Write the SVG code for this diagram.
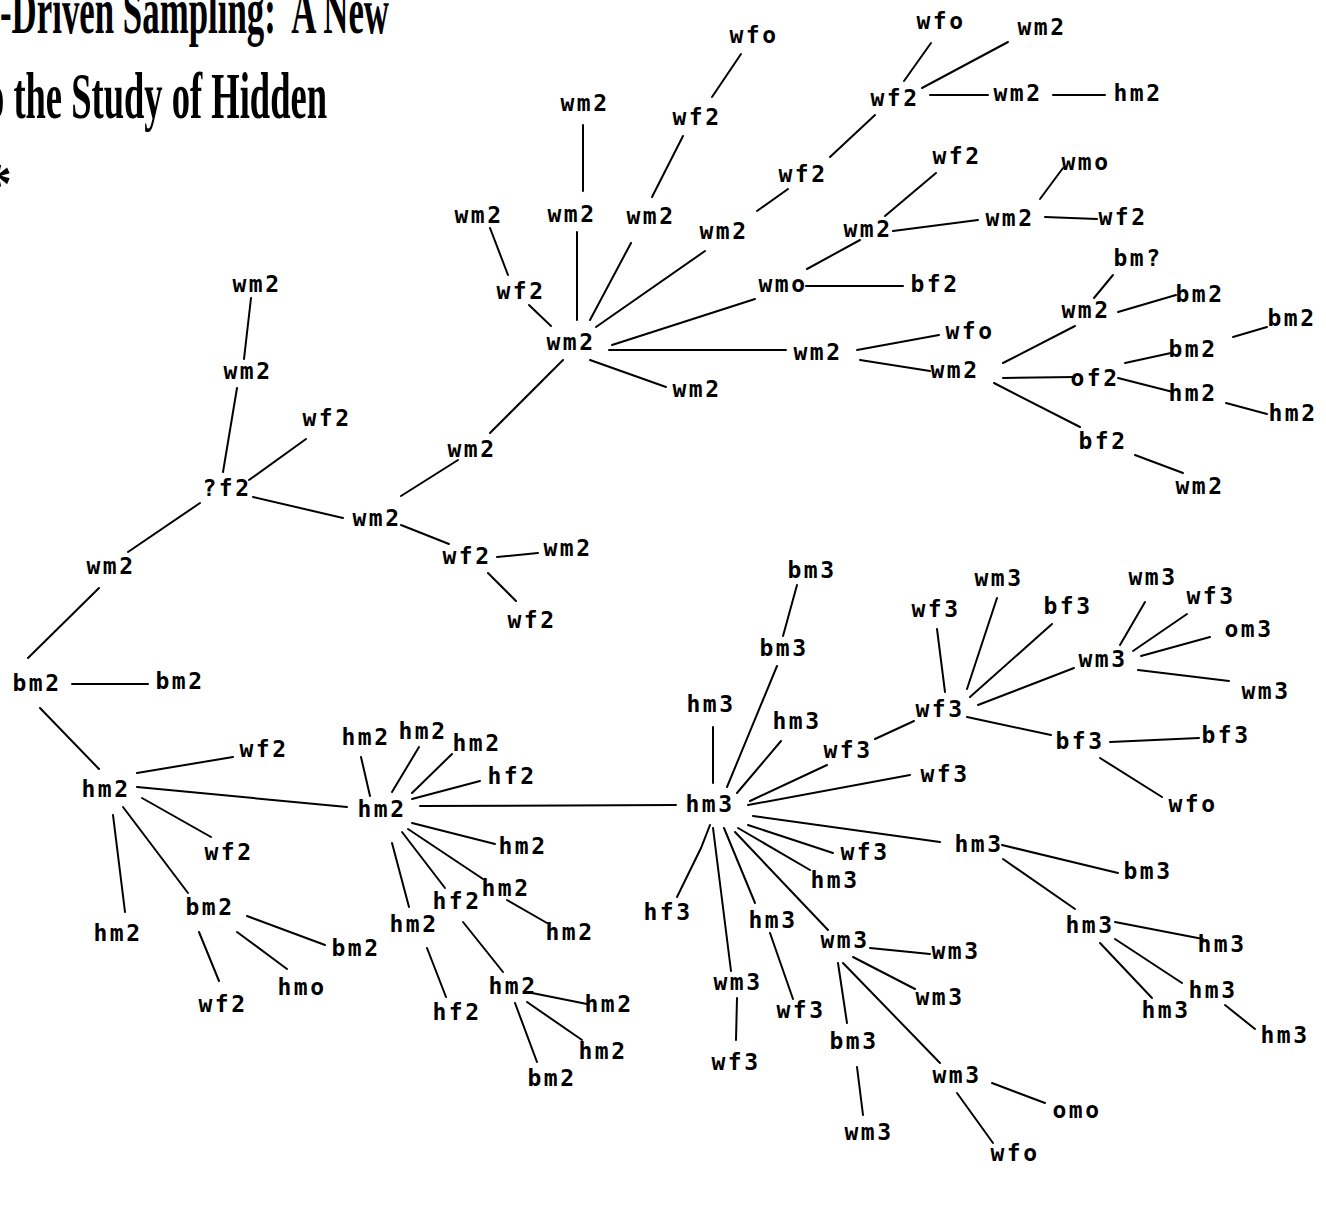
<svg xmlns="http://www.w3.org/2000/svg" width="1326" height="1225" viewBox="0 0 1326 1225">
<style>
.t{font-family:"Liberation Serif","Times New Roman",serif;font-weight:bold;font-size:66px;fill:#000}
.n text{font-family:"DejaVu Sans Mono","Liberation Mono",monospace;font-weight:bold;font-size:23px;letter-spacing:2.5px;text-anchor:middle;fill:#000}
#edges line,#edges polyline{stroke:#000;stroke-width:2;fill:none;stroke-linecap:round}
</style>
<rect width="1326" height="1225" fill="#fff"/>
<g id="title">
<text class="t" x="0" y="33" textLength="389" lengthAdjust="spacingAndGlyphs" xml:space="preserve">-Driven Sampling:  A New</text>
<text class="t" x="-14" y="118" textLength="341" lengthAdjust="spacingAndGlyphs">o the Study of Hidden</text>
<text class="t" x="12" y="203" text-anchor="end" style="font-size:56px">*</text>
</g>
<g id="edges">
<line x1="529" y1="305" x2="551" y2="326"/>
<line x1="490" y1="228" x2="508" y2="275"/>
<line x1="577" y1="232" x2="577" y2="320"/>
<line x1="583" y1="125" x2="583" y2="191"/>
<line x1="631" y1="243" x2="590" y2="320"/>
<line x1="683" y1="136" x2="652" y2="197"/>
<line x1="741" y1="54" x2="712" y2="97"/>
<line x1="705" y1="251" x2="596" y2="327"/>
<line x1="788" y1="189" x2="757" y2="211"/>
<line x1="875" y1="115" x2="830" y2="157"/>
<line x1="931" y1="43" x2="904" y2="81"/>
<line x1="1008" y1="42" x2="922" y2="88"/>
<line x1="930" y1="95" x2="988" y2="95"/>
<line x1="1053" y1="95" x2="1105" y2="95"/>
<line x1="755" y1="299" x2="612" y2="345"/>
<line x1="860" y1="240" x2="807" y2="269"/>
<line x1="806" y1="286" x2="903" y2="286"/>
<line x1="936" y1="173" x2="885" y2="216"/>
<line x1="893" y1="231" x2="978" y2="220"/>
<line x1="1063" y1="168" x2="1040" y2="199"/>
<line x1="1045" y1="217" x2="1097" y2="219"/>
<line x1="609" y1="350" x2="786" y2="350"/>
<line x1="857" y1="350" x2="939" y2="335"/>
<line x1="860" y1="360" x2="930" y2="371"/>
<line x1="1003" y1="363" x2="1075" y2="326"/>
<line x1="1113" y1="275" x2="1094" y2="298"/>
<line x1="1118" y1="312" x2="1176" y2="295"/>
<line x1="1003" y1="378" x2="1075" y2="377"/>
<line x1="1125" y1="363" x2="1171" y2="353"/>
<line x1="1233" y1="337" x2="1267" y2="327"/>
<line x1="1118" y1="378" x2="1173" y2="392"/>
<line x1="1226" y1="403" x2="1267" y2="414"/>
<line x1="994" y1="383" x2="1080" y2="427"/>
<line x1="1135" y1="455" x2="1183" y2="473"/>
<line x1="590" y1="360" x2="666" y2="387"/>
<line x1="563" y1="360" x2="490" y2="433"/>
<line x1="458" y1="460" x2="401" y2="496"/>
<line x1="401" y1="525" x2="449" y2="544"/>
<line x1="497" y1="557" x2="538" y2="553"/>
<line x1="488" y1="573" x2="516" y2="601"/>
<line x1="253" y1="497" x2="343" y2="518"/>
<line x1="306" y1="439" x2="249" y2="480"/>
<line x1="237" y1="388" x2="223" y2="472"/>
<line x1="251" y1="298" x2="244" y2="359"/>
<line x1="200" y1="503" x2="128" y2="552"/>
<line x1="99" y1="588" x2="28" y2="658"/>
<line x1="72" y1="684" x2="148" y2="684"/>
<line x1="40" y1="708" x2="99" y2="769"/>
<line x1="137" y1="773" x2="233" y2="757"/>
<line x1="137" y1="787" x2="347" y2="807"/>
<line x1="142" y1="798" x2="211" y2="837"/>
<line x1="123" y1="807" x2="188" y2="893"/>
<line x1="113" y1="815" x2="125" y2="912"/>
<line x1="199" y1="932" x2="219" y2="981"/>
<line x1="237" y1="932" x2="287" y2="969"/>
<line x1="247" y1="916" x2="325" y2="945"/>
<line x1="361" y1="757" x2="370" y2="796"/>
<line x1="419" y1="747" x2="392" y2="792"/>
<line x1="452" y1="754" x2="412" y2="793"/>
<line x1="480" y1="781" x2="412" y2="799"/>
<line x1="420" y1="806" x2="676" y2="805"/>
<line x1="412" y1="823" x2="495" y2="844"/>
<line x1="408" y1="829" x2="483" y2="879"/>
<line x1="507" y1="900" x2="547" y2="923"/>
<line x1="402" y1="832" x2="445" y2="888"/>
<line x1="392" y1="843" x2="409" y2="907"/>
<line x1="427" y1="948" x2="446" y2="997"/>
<line x1="463" y1="922" x2="503" y2="972"/>
<line x1="532" y1="993" x2="587" y2="1004"/>
<line x1="527" y1="1002" x2="582" y2="1040"/>
<line x1="515" y1="1003" x2="537" y2="1062"/>
<line x1="713" y1="727" x2="713" y2="783"/>
<line x1="777" y1="666" x2="727" y2="787"/>
<line x1="797" y1="585" x2="783" y2="636"/>
<line x1="781" y1="741" x2="737" y2="793"/>
<line x1="750" y1="801" x2="827" y2="765"/>
<line x1="875" y1="739" x2="914" y2="721"/>
<line x1="937" y1="629" x2="945" y2="692"/>
<line x1="997" y1="598" x2="967" y2="689"/>
<line x1="1052" y1="624" x2="970" y2="697"/>
<line x1="978" y1="705" x2="1074" y2="668"/>
<line x1="1145" y1="602" x2="1120" y2="645"/>
<line x1="1187" y1="614" x2="1133" y2="651"/>
<line x1="1210" y1="637" x2="1141" y2="656"/>
<line x1="1138" y1="670" x2="1229" y2="681"/>
<line x1="967" y1="717" x2="1051" y2="735"/>
<line x1="1110" y1="742" x2="1199" y2="738"/>
<line x1="1100" y1="758" x2="1162" y2="797"/>
<line x1="748" y1="805" x2="910" y2="775"/>
<line x1="753" y1="816" x2="940" y2="842"/>
<line x1="1002" y1="845" x2="1118" y2="873"/>
<line x1="1003" y1="859" x2="1075" y2="909"/>
<line x1="1115" y1="922" x2="1203" y2="939"/>
<line x1="1100" y1="943" x2="1152" y2="998"/>
<line x1="1115" y1="939" x2="1182" y2="983"/>
<line x1="1225" y1="1005" x2="1255" y2="1029"/>
<line x1="748" y1="825" x2="833" y2="853"/>
<line x1="738" y1="828" x2="810" y2="870"/>
<polyline points="710,825 701,848 677,897"/>
<line x1="713" y1="828" x2="731" y2="971"/>
<line x1="737" y1="998" x2="736" y2="1040"/>
<line x1="724" y1="828" x2="755" y2="903"/>
<line x1="770" y1="933" x2="793" y2="999"/>
<line x1="735" y1="832" x2="828" y2="930"/>
<line x1="870" y1="948" x2="930" y2="954"/>
<line x1="853" y1="957" x2="915" y2="989"/>
<line x1="838" y1="963" x2="847" y2="1023"/>
<line x1="857" y1="1067" x2="863" y2="1115"/>
<line x1="843" y1="963" x2="940" y2="1063"/>
<line x1="992" y1="1083" x2="1045" y2="1103"/>
<line x1="957" y1="1093" x2="993" y2="1143"/>
</g>
<g class="n" id="n1"><text x="571" y="350">wm2</text></g>
<g class="n" id="n2"><text x="521" y="299">wf2</text></g>
<g class="n" id="n3"><text x="479" y="223">wm2</text></g>
<g class="n" id="n4"><text x="572" y="222">wm2</text></g>
<g class="n" id="n5"><text x="585" y="111">wm2</text></g>
<g class="n" id="n6"><text x="651" y="224">wm2</text></g>
<g class="n" id="n7"><text x="697" y="125">wf2</text></g>
<g class="n" id="n8"><text x="754" y="43">wfo</text></g>
<g class="n" id="n9"><text x="724" y="239">wm2</text></g>
<g class="n" id="n10"><text x="803" y="182">wf2</text></g>
<g class="n" id="n11"><text x="895" y="106">wf2</text></g>
<g class="n" id="n12"><text x="941" y="29">wfo</text></g>
<g class="n" id="n13"><text x="1042" y="35">wm2</text></g>
<g class="n" id="n14"><text x="1018" y="101">wm2</text></g>
<g class="n" id="n15"><text x="1138" y="101">hm2</text></g>
<g class="n" id="n16"><text x="783" y="292">wmo</text></g>
<g class="n" id="n17"><text x="935" y="292">bf2</text></g>
<g class="n" id="n18"><text x="868" y="237">wm2</text></g>
<g class="n" id="n19"><text x="957" y="164">wf2</text></g>
<g class="n" id="n20"><text x="1010" y="226">wm2</text></g>
<g class="n" id="n21"><text x="1086" y="170">wmo</text></g>
<g class="n" id="n22"><text x="1123" y="225">wf2</text></g>
<g class="n" id="n23"><text x="818" y="360">wm2</text></g>
<g class="n" id="n24"><text x="970" y="339">wfo</text></g>
<g class="n" id="n25"><text x="955" y="378">wm2</text></g>
<g class="n" id="n26"><text x="1086" y="318">wm2</text></g>
<g class="n" id="n27"><text x="1138" y="266">bm?</text></g>
<g class="n" id="n28"><text x="1200" y="302">bm2</text></g>
<g class="n" id="n29"><text x="1095" y="386">of2</text></g>
<g class="n" id="n30"><text x="1193" y="357">bm2</text></g>
<g class="n" id="n31"><text x="1292" y="326">bm2</text></g>
<g class="n" id="n32"><text x="1193" y="401">hm2</text></g>
<g class="n" id="n33"><text x="1293" y="421">hm2</text></g>
<g class="n" id="n34"><text x="1103" y="449">bf2</text></g>
<g class="n" id="n35"><text x="1200" y="494">wm2</text></g>
<g class="n" id="n36"><text x="697" y="397">wm2</text></g>
<g class="n" id="n37"><text x="472" y="457">wm2</text></g>
<g class="n" id="n38"><text x="377" y="526">wm2</text></g>
<g class="n" id="n39"><text x="467" y="564">wf2</text></g>
<g class="n" id="n40"><text x="568" y="556">wm2</text></g>
<g class="n" id="n41"><text x="532" y="628">wf2</text></g>
<g class="n" id="n42"><text x="227" y="496">?f2</text></g>
<g class="n" id="n43"><text x="327" y="426">wf2</text></g>
<g class="n" id="n44"><text x="248" y="379">wm2</text></g>
<g class="n" id="n45"><text x="257" y="292">wm2</text></g>
<g class="n" id="n46"><text x="111" y="574">wm2</text></g>
<g class="n" id="n47"><text x="37" y="691">bm2</text></g>
<g class="n" id="n48"><text x="180" y="689">bm2</text></g>
<g class="n" id="n49"><text x="106" y="797">hm2</text></g>
<g class="n" id="n50"><text x="264" y="757">wf2</text></g>
<g class="n" id="n51"><text x="229" y="860">wf2</text></g>
<g class="n" id="n52"><text x="210" y="915">bm2</text></g>
<g class="n" id="n53"><text x="118" y="941">hm2</text></g>
<g class="n" id="n54"><text x="223" y="1012">wf2</text></g>
<g class="n" id="n55"><text x="302" y="995">hmo</text></g>
<g class="n" id="n56"><text x="356" y="956">bm2</text></g>
<g class="n" id="n57"><text x="382" y="817">hm2</text></g>
<g class="n" id="n58"><text x="366" y="745">hm2</text></g>
<g class="n" id="n59"><text x="423" y="739">hm2</text></g>
<g class="n" id="n60"><text x="477" y="751">hm2</text></g>
<g class="n" id="n61"><text x="512" y="784">hf2</text></g>
<g class="n" id="n62"><text x="523" y="854">hm2</text></g>
<g class="n" id="n63"><text x="506" y="896">hm2</text></g>
<g class="n" id="n64"><text x="570" y="940">hm2</text></g>
<g class="n" id="n65"><text x="457" y="909">hf2</text></g>
<g class="n" id="n66"><text x="414" y="932">hm2</text></g>
<g class="n" id="n67"><text x="457" y="1020">hf2</text></g>
<g class="n" id="n68"><text x="513" y="994">hm2</text></g>
<g class="n" id="n69"><text x="609" y="1012">hm2</text></g>
<g class="n" id="n70"><text x="603" y="1059">hm2</text></g>
<g class="n" id="n71"><text x="552" y="1086">bm2</text></g>
<g class="n" id="n72"><text x="710" y="812">hm3</text></g>
<g class="n" id="n73"><text x="711" y="712">hm3</text></g>
<g class="n" id="n74"><text x="784" y="656">bm3</text></g>
<g class="n" id="n75"><text x="812" y="578">bm3</text></g>
<g class="n" id="n76"><text x="797" y="729">hm3</text></g>
<g class="n" id="n77"><text x="848" y="758">wf3</text></g>
<g class="n" id="n78"><text x="940" y="717">wf3</text></g>
<g class="n" id="n79"><text x="936" y="617">wf3</text></g>
<g class="n" id="n80"><text x="999" y="586">wm3</text></g>
<g class="n" id="n81"><text x="1068" y="614">bf3</text></g>
<g class="n" id="n82"><text x="1103" y="667">wm3</text></g>
<g class="n" id="n83"><text x="1153" y="585">wm3</text></g>
<g class="n" id="n84"><text x="1211" y="604">wf3</text></g>
<g class="n" id="n85"><text x="1249" y="637">om3</text></g>
<g class="n" id="n86"><text x="1266" y="699">wm3</text></g>
<g class="n" id="n87"><text x="1080" y="749">bf3</text></g>
<g class="n" id="n88"><text x="1226" y="743">bf3</text></g>
<g class="n" id="n89"><text x="1193" y="812">wfo</text></g>
<g class="n" id="n90"><text x="945" y="782">wf3</text></g>
<g class="n" id="n91"><text x="979" y="852">hm3</text></g>
<g class="n" id="n92"><text x="1148" y="879">bm3</text></g>
<g class="n" id="n93"><text x="1090" y="933">hm3</text></g>
<g class="n" id="n94"><text x="1222" y="952">hm3</text></g>
<g class="n" id="n95"><text x="1213" y="998">hm3</text></g>
<g class="n" id="n96"><text x="1166" y="1018">hm3</text></g>
<g class="n" id="n97"><text x="1285" y="1043">hm3</text></g>
<g class="n" id="n98"><text x="865" y="860">wf3</text></g>
<g class="n" id="n99"><text x="835" y="888">hm3</text></g>
<g class="n" id="n100"><text x="668" y="920">hf3</text></g>
<g class="n" id="n101"><text x="738" y="990">wm3</text></g>
<g class="n" id="n102"><text x="736" y="1070">wf3</text></g>
<g class="n" id="n103"><text x="773" y="928">hm3</text></g>
<g class="n" id="n104"><text x="801" y="1018">wf3</text></g>
<g class="n" id="n105"><text x="845" y="948">wm3</text></g>
<g class="n" id="n106"><text x="956" y="959">wm3</text></g>
<g class="n" id="n107"><text x="940" y="1005">wm3</text></g>
<g class="n" id="n108"><text x="854" y="1049">bm3</text></g>
<g class="n" id="n109"><text x="869" y="1140">wm3</text></g>
<g class="n" id="n110"><text x="957" y="1083">wm3</text></g>
<g class="n" id="n111"><text x="1077" y="1118">omo</text></g>
<g class="n" id="n112"><text x="1015" y="1161">wfo</text></g>
</svg>
